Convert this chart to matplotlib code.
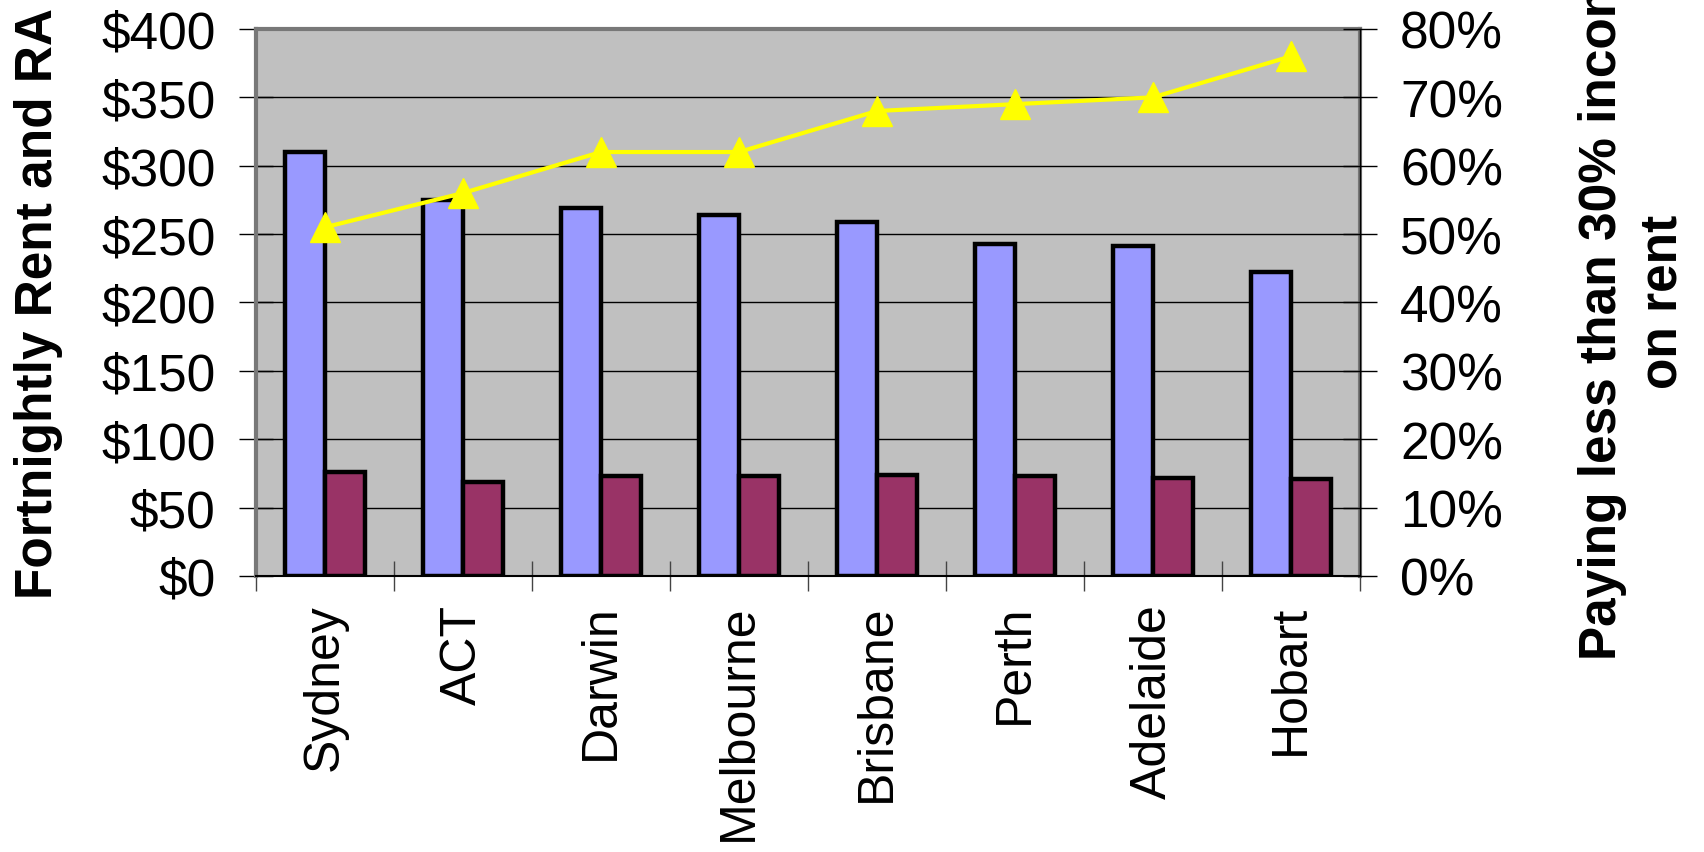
import numpy as np
import matplotlib
matplotlib.use("Agg")
import matplotlib.pyplot as plt
from matplotlib.ticker import FuncFormatter

plt.rcParams['font.family'] = ['Liberation Sans', 'DejaVu Sans']

cities = ['Sydney', 'ACT', 'Darwin', 'Melbourne', 'Brisbane', 'Perth', 'Adelaide', 'Hobart']
rent = [310, 275, 269, 264, 259, 243, 241, 222]
ra = [76, 69, 73, 73, 74, 73, 72, 71]
pct_below30 = [51, 56, 62, 62, 68, 69, 70, 76]

fig = plt.figure(figsize=(17.04, 8.53), dpi=100)
ax = fig.add_axes([0.1502, 0.3236, 0.6479, 0.6413])
ax.set_facecolor('#C0C0C0')

x = np.arange(len(cities))
w = 0.29
ax.bar(x - w / 2, rent, w, color='#9999FF', edgecolor='black', linewidth=3.2, zorder=3)
ax.bar(x + w / 2, ra, w, color='#993366', edgecolor='black', linewidth=3.2, zorder=3)

ax.set_xlim(-0.5, len(cities) - 0.5)
ax.set_ylim(0, 400)
ax.set_yticks(np.arange(0, 401, 50))
ax.yaxis.set_major_formatter(FuncFormatter(lambda v, p: '$%d' % v))
ax.grid(axis='y', color='black', linewidth=1)
ax.set_axisbelow(True)

# ticks at category boundaries, labels at centres
ax.set_xticks(np.arange(-0.5, len(cities), 1))
ax.set_xticks(x, minor=True)
ax.set_xticklabels(cities, minor=True, rotation=90)
ax.tick_params(axis='x', which='major', direction='inout', length=22, width=1,
               color='#444444', labelbottom=False)
ax.tick_params(axis='x', which='minor', length=0, pad=20, labelsize=36)
ax.tick_params(axis='y', direction='inout', length=24, width=1, pad=17, labelsize=37)

for s in ['left', 'top', 'right']:
    ax.spines[s].set_color('#787878')
    ax.spines[s].set_linewidth(3)
ax.spines['bottom'].set_color('black')
ax.spines['bottom'].set_linewidth(1.5)

ax.set_ylabel('Fortnightly Rent and RA', fontsize=37, fontweight='bold')
ax.yaxis.set_label_coords(-0.175, 0.5)

ax2 = ax.twinx()
ax2.plot(x, pct_below30, color='#FFFF00', linewidth=3, marker='^', markersize=21, zorder=5)
ax2.set_ylim(0, 80)
ax2.set_yticks(np.arange(0, 81, 10))
ax2.yaxis.set_major_formatter(FuncFormatter(lambda v, p: '%d%%' % v))
ax2.tick_params(axis='y', direction='inout', length=24, width=1, pad=17, labelsize=37)
for s in ['left', 'top', 'bottom']:
    ax2.spines[s].set_visible(False)
ax2.spines['right'].set_color('black')
ax2.spines['right'].set_linewidth(1)

fig.text(0.958, 0.646, 'Paying less than 30% income\non rent', rotation=90,
         ha='center', va='center', multialignment='center', linespacing=1.3,
         fontsize=37, fontweight='bold')

fig.savefig('out.png', dpi=100)
